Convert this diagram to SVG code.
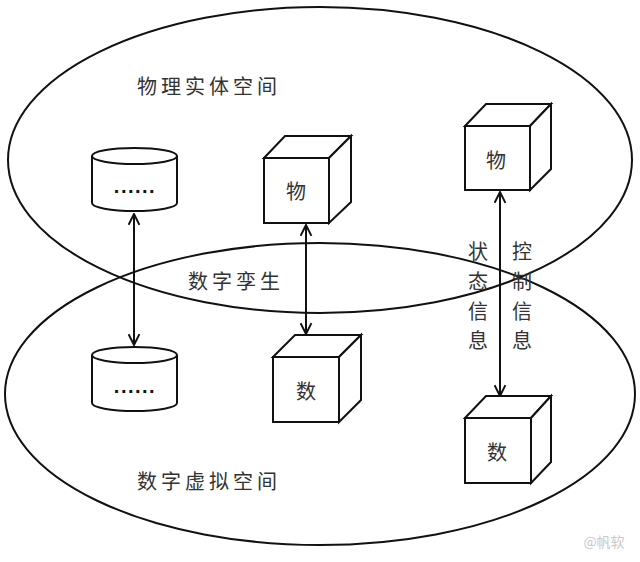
<svg xmlns="http://www.w3.org/2000/svg" width="640" height="562" viewBox="0 0 640 562">
<defs>
<style>
.ln{fill:none;stroke:#111;stroke-width:2}
.sh{fill:#fff;stroke:#111;stroke-width:2;stroke-linejoin:miter}
.t{font-family:"Noto Sans CJK SC","Noto Sans",sans-serif;font-size:20px;fill:#333;text-anchor:middle;dominant-baseline:central}
.lab{letter-spacing:4px;text-anchor:start}
.dots{font-family:"Liberation Sans",sans-serif;font-size:20px;font-weight:bold;letter-spacing:1.5px;fill:#111;text-anchor:middle}
</style>
<marker id="ah" viewBox="0 0 12 12" refX="11" refY="6" markerWidth="13" markerHeight="13" markerUnits="userSpaceOnUse" orient="auto-start-reverse">
<path d="M1,1 L11,6 L1,11" fill="none" stroke="#111" stroke-width="1.8"/>
</marker>
</defs>
<rect width="640" height="562" fill="#fff"/>
<g id="regions">
<ellipse class="ln" cx="320" cy="160" rx="312" ry="153"/>
<ellipse class="ln" cx="320" cy="394" rx="315" ry="151"/>
</g>
<g id="labels">
<text class="t lab" x="137" y="85">物理实体空间</text>
<text class="t lab" x="188" y="280">数字孪生</text>
<text class="t lab" x="137" y="480">数字虚拟空间</text>
</g>
<g id="cyl-top">
<path class="sh" d="M92,156 L92,203 A42.5,8 0 0 0 177,203 L177,156"/>
<ellipse class="sh" cx="134.5" cy="156" rx="42.5" ry="8"/>
<text class="dots" x="135" y="193">......</text>
</g>
<g id="cyl-bottom">
<path class="sh" d="M92,355 L92,403 A42.5,8 0 0 0 177,403 L177,355"/>
<ellipse class="sh" cx="134.5" cy="355" rx="42.5" ry="8"/>
<text class="dots" x="135" y="393">......</text>
</g>
<g id="cube-wu-mid">
<path class="sh" d="M264,158 L285,136 L351,136 L329,158 Z"/>
<path class="sh" d="M329,158 L351,136 L351,202 L329,223 Z"/>
<rect class="sh" x="264" y="158" width="65" height="65"/>
<text class="t" x="296" y="190">物</text>
</g>
<g id="cube-shu-mid">
<path class="sh" d="M273,357 L295,335 L361,335 L339,357 Z"/>
<path class="sh" d="M339,357 L361,335 L361,400 L339,422 Z"/>
<rect class="sh" x="273" y="357" width="66" height="65"/>
<text class="t" x="306" y="390">数</text>
</g>
<g id="cube-wu-right">
<path class="sh" d="M465,126 L486,104 L551,104 L530,126 Z"/>
<path class="sh" d="M530,126 L551,104 L551,169 L530,190 Z"/>
<rect class="sh" x="465" y="126" width="65" height="64"/>
<text class="t" x="496" y="159">物</text>
</g>
<g id="cube-shu-right">
<path class="sh" d="M465,418 L486,396 L551,396 L531,418 Z"/>
<path class="sh" d="M531,418 L551,396 L551,462 L531,483 Z"/>
<rect class="sh" x="465" y="418" width="66" height="65"/>
<text class="t" x="497" y="451">数</text>
</g>
<g id="connectors">
<line class="ln" x1="134" y1="214" x2="134" y2="345" marker-start="url(#ah)" marker-end="url(#ah)"/>
<line class="ln" x1="306" y1="225" x2="306" y2="334" marker-start="url(#ah)" marker-end="url(#ah)"/>
<line class="ln" x1="500" y1="192" x2="500" y2="396" marker-start="url(#ah)" marker-end="url(#ah)"/>
</g>
<g id="flow-labels">
<text class="t" x="478" y="250">状</text>
<text class="t" x="478" y="280">态</text>
<text class="t" x="478" y="310">信</text>
<text class="t" x="478" y="339">息</text>
<text class="t" x="522" y="250">控</text>
<text class="t" x="522" y="280">制</text>
<text class="t" x="522" y="310">信</text>
<text class="t" x="522" y="339">息</text>
</g>
<text x="604" y="541" font-family="Noto Sans CJK SC,sans-serif" font-size="14" fill="#c8c8c8" text-anchor="middle" dominant-baseline="central">@帆软</text>
</svg>
